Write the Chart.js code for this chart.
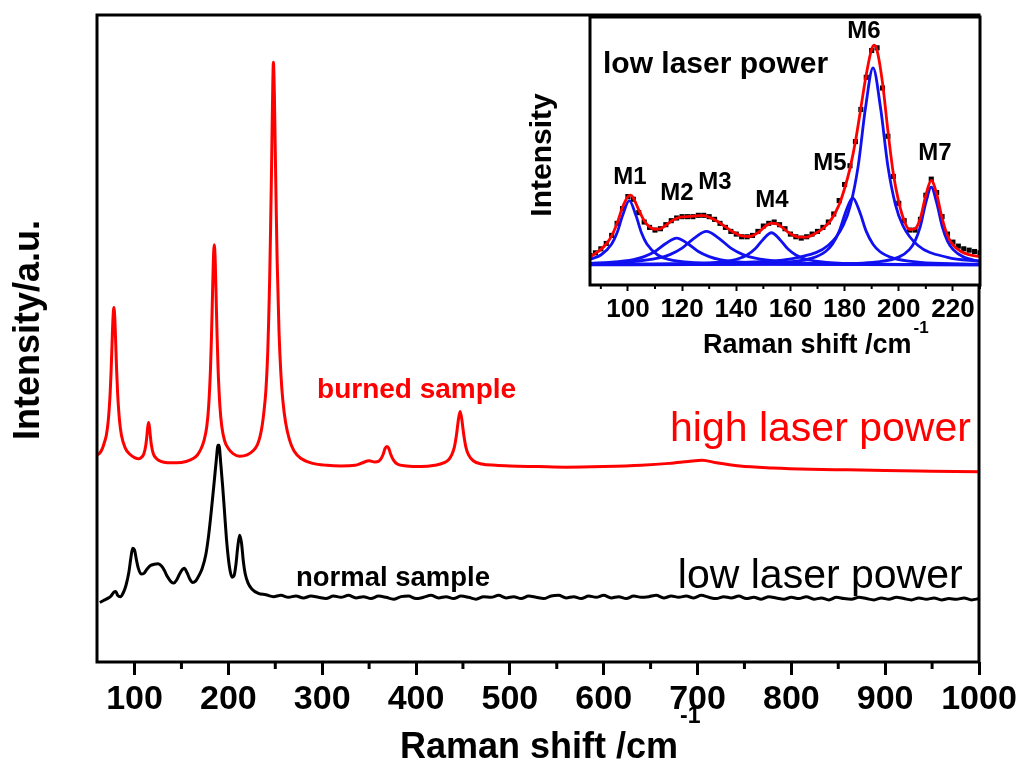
<!DOCTYPE html>
<html>
<head>
<meta charset="utf-8">
<script src="https://cdn.jsdelivr.net/npm/chart.js@4.4.1/dist/chart.umd.min.js"></script>
<style>
  body { margin: 0; background: #fff; }
  #wrap { position: relative; width: 1024px; height: 774px; }
  #main { position: absolute; left: 0; top: 0; }
  #inset { position: absolute; left: 500px; top: 0; }
</style>
</head>
<body>
<div id="wrap">
  <canvas id="main" width="1024" height="774"></canvas>
  <canvas id="inset" width="524" height="380"></canvas>
</div>
<script>
// main spectra [Raman shift, intensity]
const highPower = [[60,32],[63,32.3],[66,33.1],[68,34],[70,35.1],[72,37.3],[74,41.5],[75,44.8],[76,49],[77,53],[78,54.8],[79,53],[80,49],[81,44.8],[82,41.5],[84,37.3],[86,35.1],[90,33.1],[95,32.1],[100,31.6],[104,31.4],[107,31.6],[110,32.2],[112,33.5],[113,34.7],[114,36.2],[115,37],[116,36.2],[117,34.7],[118,33.5],[120,32.2],[123,31.5],[128,31],[135,30.8],[145,30.8],[155,31],[162,31.4],[167,32],[171,33],[174,34.2],[177,36.4],[179,39.5],[181,45.5],[182,50.3],[183,56.2],[184,62],[185,64.5],[186,62],[187,56.2],[188,50.3],[189,45.5],[191,39.5],[193,36.4],[196,34.2],[200,33],[205,32.2],[212,31.8],[220,32],[226,32.6],[231,33.6],[234,35],[236,36.5],[238,38.8],[240,42],[242,48],[243,53],[244,59],[245,67],[246,76],[247,86],[248,92.7],[249,88],[250,79],[251,70],[252,62],[254,51],[256,44.5],[258,40.5],[261,37],[265,34.4],[270,32.6],[278,31.4],[290,30.7],[305,30.4],[320,30.3],[335,30.4],[343,30.8],[350,31.1],[356,30.9],[360,31],[363,31.5],[365,32.1],[367,33],[369,33.3],[371,33],[373,32.1],[376,31.2],[380,30.6],[390,30.3],[405,30.2],[420,30.4],[430,30.8],[435,31.3],[438,32],[441,33.3],[443,35],[444,36.1],[445,37.3],[447,38.7],[449,37.3],[450,36.1],[451,35],[453,33.3],[456,32],[461,31.1],[470,30.6],[485,30.4],[500,30.3],[530,30.2],[560,30.1],[600,30.2],[640,30.4],[670,30.7],[690,31],[705,31.2],[720,30.8],[745,30.3],[780,30],[820,29.8],[860,29.7],[900,29.6],[950,29.5],[1000,29.4]];
const lowPower = [[63,9.2],[67,9.5],[71,9.8],[75,10.2],[78,10.8],[80,10.9],[82,10.3],[85,10.1],[88,10.7],[91,11.9],[94,13.9],[96,16],[98,17.6],[100,17.3],[102,15.8],[104,14.5],[107,13.6],[110,13.7],[113,14.3],[117,14.9],[121,15.1],[125,15.2],[129,14.8],[132,14.1],[135,13.2],[139,12.4],[142,12.2],[145,12.7],[148,13.6],[151,14.3],[153,14.5],[156,13.8],[159,12.8],[162,12.3],[165,12.5],[168,13.2],[172,14.4],[176,16.6],[179,19.6],[182,23.6],[185,28],[187,31],[189,33.5],[190,33.5],[192,30.5],[194,27],[196,23],[198,19],[200,16],[202,14],[204,13.1],[206,13.3],[208,15],[210,17.8],[212,19.6],[214,18.4],[216,15.5],[218,13.6],[221,12.2],[225,11.3],[232,10.6],[240,10.4],[248,10.1],[256,10.3],[264,10],[272,10.2],[280,9.9],[288,10.2],[296,10],[304,9.8],[312,10.2],[320,10],[328,10.3],[336,9.9],[344,10.1],[352,9.8],[360,10.2],[368,10],[376,9.7],[384,10.1],[392,10.2],[400,9.8],[408,10],[416,10.3],[424,9.9],[432,10.1],[440,9.8],[448,10.2],[456,10],[464,9.7],[472,10.1],[480,10],[488,10.3],[496,9.9],[504,10.1],[512,9.8],[520,10.2],[528,10],[536,9.8],[544,10.2],[552,10.3],[560,9.9],[568,10.1],[576,9.8],[584,10.2],[592,10],[600,10.3],[608,9.9],[616,10.1],[624,9.8],[632,10.2],[640,10],[648,10.1],[656,10.3],[664,9.9],[672,10.2],[680,10],[688,10.2],[696,9.9],[704,10.3],[712,10],[720,9.8],[728,10.1],[736,9.9],[744,10.2],[752,9.8],[760,10],[768,9.7],[776,10.1],[784,9.9],[792,9.7],[800,10],[808,9.8],[816,10.1],[824,9.7],[832,9.9],[840,9.6],[848,10],[856,9.8],[864,9.7],[872,10],[880,9.8],[888,9.6],[896,9.9],[904,9.7],[912,10],[920,9.8],[928,9.6],[936,9.9],[944,9.7],[952,9.9],[960,9.6],[968,9.8],[976,9.7],[984,9.9],[992,9.6],[1000,9.8]];
const mainTicks = [100,200,300,400,500,600,700,800,900,1000];
const mainMinor = [150,250,350,450,550,650,750,850,950];

// inset: measured points, fit and the seven fitted peaks
const insetData = [[86,3.5],[88,4.5],[90,6],[92,8],[94,11],[96,15.5],[98,21],[100,25.5],[102,24.5],[104,19.5],[106,16],[108,14],[110,13],[112,13.5],[114,15],[116,16.5],[118,17.5],[120,18],[122,18],[124,18],[126,18.5],[128,18.5],[130,18],[132,17],[134,15.5],[136,14],[138,12.5],[140,11.5],[142,10.5],[144,10.5],[146,11],[148,12.5],[150,14.5],[152,15.5],[154,16],[156,15],[158,13.5],[160,11.5],[162,10.5],[164,10],[166,10.5],[168,11.5],[170,12.5],[172,14],[174,16],[176,19],[178,24],[180,30],[182,37],[184,46],[186,58],[188,70],[190,80],[192,81],[194,66],[196,48],[198,33],[200,23],[202,16.5],[204,13],[206,13],[208,17],[210,26],[212,32],[214,27],[216,18],[218,11.5],[220,8.5],[222,7],[224,6],[226,5.5],[228,5],[230,4.5]];
const insetFit = [[86,3],[88,4.3],[90,5.8],[92,7.8],[94,10.8],[96,15.5],[98,21.5],[100,25.5],[101,26],[102,25],[104,20.5],[106,16.5],[108,14.2],[110,13.3],[112,13.5],[114,14.8],[116,16.3],[118,17.4],[120,17.9],[123,18.1],[126,18.4],[128,18.4],[130,17.8],[133,16.3],[136,14.2],[139,12.2],[142,10.8],[145,10.6],[148,12],[151,14.6],[153,15.6],[155,15.3],[157,14],[160,11.6],[163,10.4],[166,10.4],[169,11.6],[172,13.6],[175,16.8],[178,22.5],[180,28.5],[182,36],[184,46],[186,58.5],[188,71],[190,80.5],[191,82],[192,80],[194,68],[196,50],[198,34],[200,23.5],[202,16.5],[204,13.2],[206,13.5],[208,17.5],[210,26],[212,31.5],[214,26.5],[216,17.5],[218,11],[220,7.5],[223,5],[226,3.8],[230,3]];
const m1 = [[86,2.1],[90,3.7],[94,7.8],[96,12],[98,18.3],[100.5,24],[103,18.3],[105,12],[107,7.8],[111,3.7],[115,2.1],[125,0.8],[140,0.3],[230,0]];
const m2 = [[86,0.6],[94,1],[102,2],[106,3.1],[110,5],[114,8],[118,10],[122,8],[126,5],[130,3.1],[134,2],[142,1],[158,0.4],[230,0.05]];
const m3 = [[86,0.5],[102,1.25],[111,2.5],[115.5,3.85],[120,6.25],[124.5,10],[129,12.5],[133.5,10],[138,6.25],[142.5,3.85],[147,2.5],[156,1.25],[174,0.5],[230,0.1]];
const m4 = [[86,0.1],[123,0.46],[135,1.2],[141,2.4],[144,3.7],[147,6],[150,9.6],[153,12],[156,9.6],[159,6],[162,3.7],[165,2.4],[171,1.2],[183,0.46],[230,0.07]];
const m5 = [[86,0.07],[143,0.38],[158,0.96],[168,2.5],[173,5],[175.5,7.7],[178,12.5],[180.5,20],[183,25],[185.5,20],[188,12.5],[190.5,7.7],[193,5],[198,2.5],[208,0.96],[223,0.38],[230,0.28]];
const m6 = [[86,0.2],[146.5,1.13],[163,2.83],[174,7.35],[179.5,14.7],[182.25,22.6],[185,36.75],[187.75,58.8],[190.5,73.5],[193.25,58.8],[196,36.75],[198.75,22.6],[201.5,14.7],[207,7.35],[218,2.83],[230,1.37]];
const m7 = [[86,0.03],[172,0.29],[192,1.12],[200,2.9],[204,5.8],[206,8.9],[208,14.5],[210,23.2],[212,29],[214,23.2],[216,14.5],[218,8.9],[220,5.8],[224,2.9],[230,1.3]];
const insetTicks = [100,120,140,160,180,200,220];
const insetMinor = [90,110,130,150,170,190,210,230];
const peakNames = ['M1','M2','M3','M4','M5','M6','M7'];
const peakLabelPos = [[100.7,32.8],[118.1,26.8],[132.1,30.9],[153.2,24.2],[174.6,38],[187.1,87.3],[213.4,41.8]];

const FONT = "'Liberation Sans', Arial, sans-serif";
Chart.defaults.font.family = FONT;
const toXY = a => a.map(p => ({x: p[0], y: p[1]}));

function drawXTitle(ctx, x, y, size, supSize, rise) {
  ctx.save();
  ctx.fillStyle = '#000';
  ctx.textAlign = 'left';
  ctx.textBaseline = 'alphabetic';
  ctx.font = 'bold ' + size + 'px ' + FONT;
  ctx.fillText('Raman shift /cm', x, y);
  let w = ctx.measureText('Raman shift /cm').width;
  ctx.font = 'bold ' + supSize + 'px ' + FONT;
  ctx.fillText('-1', x + w + 2, y - rise);
  ctx.restore();
}
function drawYTitle(ctx, text, x, y, size) {
  ctx.save();
  ctx.translate(x, y);
  ctx.rotate(-Math.PI / 2);
  ctx.fillStyle = '#000';
  ctx.textAlign = 'center';
  ctx.textBaseline = 'alphabetic';
  ctx.font = 'bold ' + size + 'px ' + FONT;
  ctx.fillText(text, 0, 0);
  ctx.restore();
}
function minorTicks(ctx, chart, values, len, width) {
  const a = chart.chartArea, x = chart.scales.x;
  ctx.save();
  ctx.strokeStyle = '#000';
  ctx.lineWidth = width;
  values.forEach(v => {
    const px = x.getPixelForValue(v);
    ctx.beginPath();
    ctx.moveTo(px, a.bottom);
    ctx.lineTo(px, a.bottom + len);
    ctx.stroke();
  });
  ctx.restore();
}

const mainDecor = {
  id: 'mainDecor',
  afterDraw(chart) {
    const ctx = chart.ctx, a = chart.chartArea, x = chart.scales.x, y = chart.scales.y;
    minorTicks(ctx, chart, mainMinor, 7, 3);
    ctx.save();
    ctx.strokeStyle = '#000';
    ctx.lineWidth = 3;
    ctx.strokeRect(a.left, a.top, a.right - a.left, a.bottom - a.top);
    ctx.textAlign = 'left';
    ctx.textBaseline = 'alphabetic';
    ctx.fillStyle = '#ff0000';
    ctx.font = 'bold 28px ' + FONT;
    ctx.fillText('burned sample', x.getPixelForValue(294.5), y.getPixelForValue(40.8));
    ctx.font = '41px ' + FONT;
    ctx.fillText('high laser power', x.getPixelForValue(670.7), y.getPixelForValue(34.2));
    ctx.fillStyle = '#000';
    ctx.font = 'bold 27.5px ' + FONT;
    ctx.fillText('normal sample', x.getPixelForValue(272), y.getPixelForValue(11.7));
    ctx.font = '41px ' + FONT;
    ctx.fillText('low laser power', x.getPixelForValue(679), y.getPixelForValue(11.4));
    ctx.restore();
    drawXTitle(ctx, 400, 758, 36, 23, 35);
    drawYTitle(ctx, 'Intensity/a.u.', 39, 330, 36);
  }
};

new Chart(document.getElementById('main'), {
  type: 'line',
  data: {
    datasets: [
      { data: toXY(lowPower), borderColor: '#000', borderWidth: 3, pointRadius: 0, cubicInterpolationMode: 'monotone' },
      { data: toXY(highPower), borderColor: '#ff0000', borderWidth: 3, pointRadius: 0, cubicInterpolationMode: 'monotone' }
    ]
  },
  options: {
    responsive: false,
    animation: false,
    events: [],
    layout: { padding: { top: 15, right: 45, left: 0, bottom: 0 } },
    plugins: { legend: { display: false }, tooltip: { enabled: false } },
    scales: {
      x: {
        type: 'linear', min: 60, max: 1000,
        afterBuildTicks: s => { s.ticks = mainTicks.map(v => ({ value: v })); },
        afterFit: s => { s.height = 112; },
        border: { display: false },
        grid: { drawOnChartArea: false, drawTicks: true, tickLength: 13, tickWidth: 3, tickColor: '#000' },
        ticks: { color: '#000', autoSkip: false, maxRotation: 0, padding: 4, font: { size: 34, weight: 'bold' }, callback: v => String(v) }
      },
      y: {
        min: 0, max: 100,
        afterFit: s => { s.width = 97; },
        border: { display: false },
        grid: { display: false },
        ticks: { display: false }
      }
    }
  },
  plugins: [mainDecor]
});

const insetDecor = {
  id: 'insetDecor',
  beforeDraw(chart) {
    const ctx = chart.ctx, a = chart.chartArea;
    ctx.save();
    ctx.fillStyle = '#fff';
    ctx.fillRect(a.left, a.top, a.right - a.left, a.bottom - a.top);
    ctx.restore();
  },
  afterDraw(chart) {
    const ctx = chart.ctx, a = chart.chartArea, x = chart.scales.x, y = chart.scales.y;
    minorTicks(ctx, chart, insetMinor, 4, 2);
    ctx.save();
    ctx.fillStyle = '#000';
    ctx.textAlign = 'left';
    ctx.textBaseline = 'alphabetic';
    ctx.font = 'bold 30px ' + FONT;
    ctx.fillText('low laser power', 103, 73);
    ctx.textAlign = 'center';
    ctx.textBaseline = 'middle';
    ctx.font = 'bold 24px ' + FONT;
    peakNames.forEach((n, i) => {
      ctx.fillText(n, x.getPixelForValue(peakLabelPos[i][0]), y.getPixelForValue(peakLabelPos[i][1]));
    });
    ctx.strokeStyle = '#000';
    ctx.lineWidth = 3;
    ctx.strokeRect(a.left, a.top, a.right - a.left, a.bottom - a.top);
    ctx.restore();
    drawXTitle(ctx, 203, 353, 27, 17, 20);
    drawYTitle(ctx, 'Intensity', 51, 155, 30);
  }
};

const blue = '#1010f0';
const comp = d => ({ data: toXY(d), borderColor: blue, borderWidth: 2.8, pointRadius: 0, cubicInterpolationMode: 'monotone' });

new Chart(document.getElementById('inset'), {
  type: 'line',
  data: {
    datasets: [
      { data: toXY(insetFit), borderColor: '#ff0000', borderWidth: 2.8, pointRadius: 0, cubicInterpolationMode: 'monotone' },
      comp(m1), comp(m2), comp(m3), comp(m4), comp(m5), comp(m6), comp(m7),
      { data: toXY(insetData), showLine: false, pointStyle: 'rect', pointRadius: 3.6, borderWidth: 0, backgroundColor: '#000', borderColor: '#000' }
    ]
  },
  options: {
    responsive: false,
    animation: false,
    events: [],
    layout: { padding: { top: 17, right: 44, left: 0, bottom: 0 } },
    plugins: { legend: { display: false }, tooltip: { enabled: false } },
    scales: {
      x: {
        type: 'linear', min: 86, max: 230,
        afterBuildTicks: s => { s.ticks = insetTicks.map(v => ({ value: v })); },
        afterFit: s => { s.height = 95; },
        border: { display: false },
        grid: { drawOnChartArea: false, drawTicks: true, tickLength: 6, tickWidth: 2, tickColor: '#000' },
        ticks: { color: '#000', autoSkip: false, maxRotation: 0, padding: 3, font: { size: 26, weight: 'bold' } }
      },
      y: {
        min: -7.5, max: 92.5,
        afterFit: s => { s.width = 90; },
        border: { display: false },
        grid: { display: false },
        ticks: { display: false }
      }
    }
  },
  plugins: [insetDecor]
});
</script>
</body>
</html>
